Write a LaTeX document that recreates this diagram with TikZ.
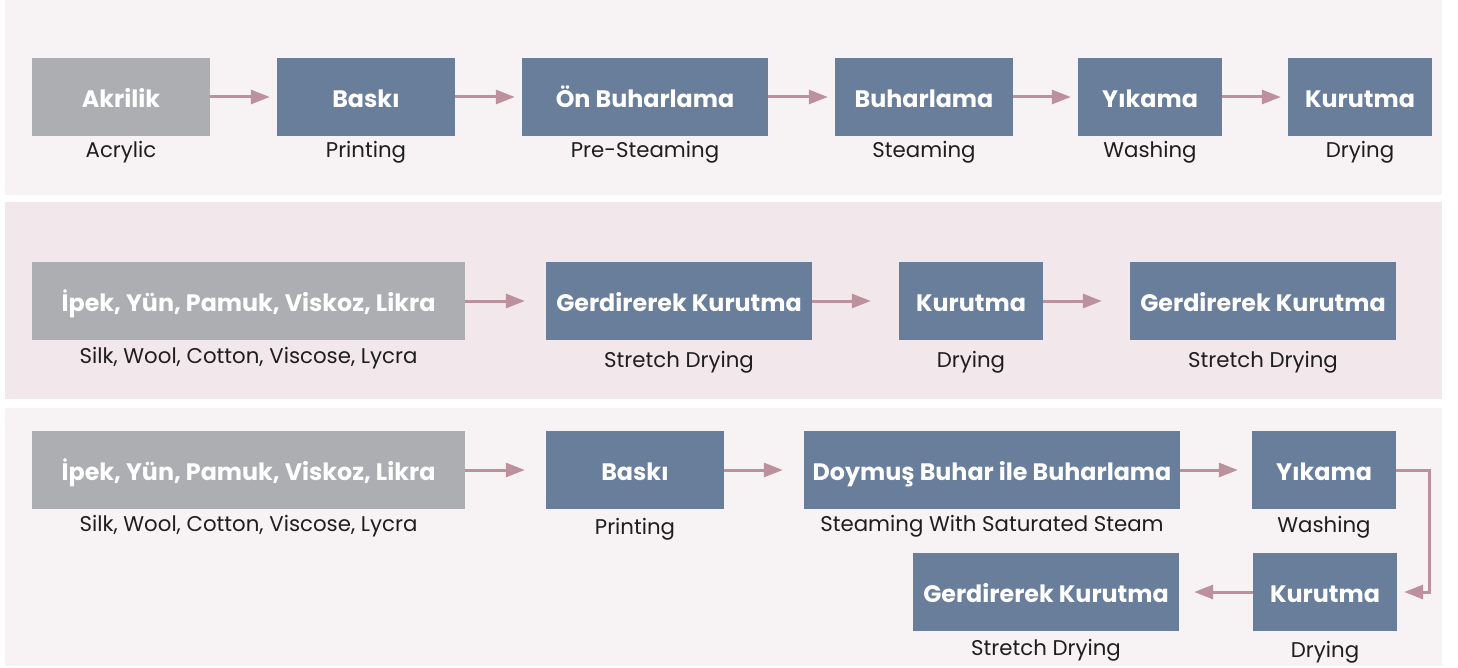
\documentclass[tikz,border=0pt]{standalone}
\usepackage{fontspec}
\setmainfont{Poppins}
\usetikzlibrary{arrows.meta}
\definecolor{panelA}{HTML}{F7F3F4}
\definecolor{panelB}{HTML}{F2E8EB}
\definecolor{grayBox}{HTML}{ADAEB2}
\definecolor{blueBox}{HTML}{687E9B}
\definecolor{arrCol}{HTML}{BC909D}
\definecolor{labCol}{HTML}{1E1E1E}
\tikzset{
  box/.style={rectangle, inner sep=0pt, minimum height=78pt, text=white,
    text height=21pt, text depth=0pt,
    font=\fontsize{23.8}{28}\selectfont\bfseries},
  srcbox/.style={box, fill=grayBox},
  procbox/.style={box, fill=blueBox},
  sub/.style={anchor=base, inner sep=0pt, text=labCol, font=\fontsize{21.3}{25}\selectfont},
  arr/.style={draw=arrCol, line width=3pt, -{Triangle[length=19pt,width=14pt]}, shorten >=7pt},
}
\begin{document}
\begin{tikzpicture}[x=1pt,y=-1pt]
\useasboundingbox (0,0) rectangle (1458,668);
\fill[white] (0,0) rectangle (1458,668);
\fill[panelA] (5,0) rectangle (1442,195);
\fill[panelB] (5,202) rectangle (1442,399);
\fill[panelA] (5,408) rectangle (1442,666);
% row 1
\node[srcbox, minimum width=178pt] (akr) at (121,97) {Akrilik};
\node[procbox, minimum width=178pt] (bas1) at (366,97) {Baskı};
\node[procbox, minimum width=246pt] (onb) at (645,97) {Ön Buharlama};
\node[procbox, minimum width=178pt] (buh) at (924,97) {Buharlama};
\node[procbox, minimum width=144pt] (yik1) at (1150,97) {Yıkama};
\node[procbox, minimum width=144pt] (kur1) at (1360,97) {Kurutma};
\node[sub] (lakr) at (121,158) {Acrylic};
\node[sub] (lbas1) at (366,158) {Printing};
\node[sub] (lonb) at (645,158) {Pre-Steaming};
\node[sub] (lbuh) at (924,158) {Steaming};
\node[sub] (lyik1) at (1150,158) {Washing};
\node[sub] (lkur1) at (1360,158) {Drying};
\draw[arr] (akr) -- (bas1);
\draw[arr] (bas1) -- (onb);
\draw[arr] (onb) -- (buh);
\draw[arr] (buh) -- (yik1);
\draw[arr] (yik1) -- (kur1);
% row 2
\node[srcbox, minimum width=433pt] (ipek2) at (248.5,301) {İpek, Yün, Pamuk, Viskoz, Likra};
\node[procbox, minimum width=266pt] (ger2a) at (679,301) {Gerdirerek Kurutma};
\node[procbox, minimum width=144pt] (kur2) at (971,301) {Kurutma};
\node[procbox, minimum width=266pt] (ger2b) at (1263,301) {Gerdirerek Kurutma};
\node[sub] (lipek2) at (248.5,363) {Silk, Wool, Cotton, Viscose, Lycra};
\node[sub] (lger2a) at (679,367) {Stretch Drying};
\node[sub] (lkur2) at (971,367) {Drying};
\node[sub] (lger2b) at (1263,367) {Stretch Drying};
\draw[arr, shorten >=21pt] (ipek2) -- (ger2a);
\draw[arr, shorten >=28pt] (ger2a) -- (kur2);
\draw[arr, shorten >=28pt] (kur2) -- (ger2b);
% row 3
\node[srcbox, minimum width=433pt] (ipek3) at (248.5,470) {İpek, Yün, Pamuk, Viskoz, Likra};
\node[procbox, minimum width=178pt] (bas3) at (635,470) {Baskı};
\node[procbox, minimum width=376pt] (doy) at (992,470) {Doymuş Buhar ile Buharlama};
\node[procbox, minimum width=144pt] (yik3) at (1324,470) {Yıkama};
\node[procbox, minimum width=266pt] (ger4) at (1046,592) {Gerdirerek Kurutma};
\node[procbox, minimum width=144pt] (kur4) at (1325,592) {Kurutma};
\node[sub] (lipek3) at (248.5,531) {Silk, Wool, Cotton, Viscose, Lycra};
\node[sub] (lbas3) at (635,534) {Printing};
\node[sub] (ldoy) at (992,531) {Steaming With Saturated Steam};
\node[sub] (lyik3) at (1324,532) {Washing};
\node[sub] (lger4) at (1046,655) {Stretch Drying};
\node[sub] (lkur4) at (1325,657) {Drying};
\coordinate (elb) at (1429,470);
\draw[arr, shorten >=21pt] (ipek3) -- (bas3);
\draw[arr, shorten >=21pt] (bas3) -- (doy);
\draw[arr, shorten >=14pt] (doy) -- (yik3);
\draw[arr] (yik3.east) -- (elb) |- (kur4.east);
\draw[arr, shorten >=15pt] (kur4) -- (ger4);
\end{tikzpicture}
\end{document}
